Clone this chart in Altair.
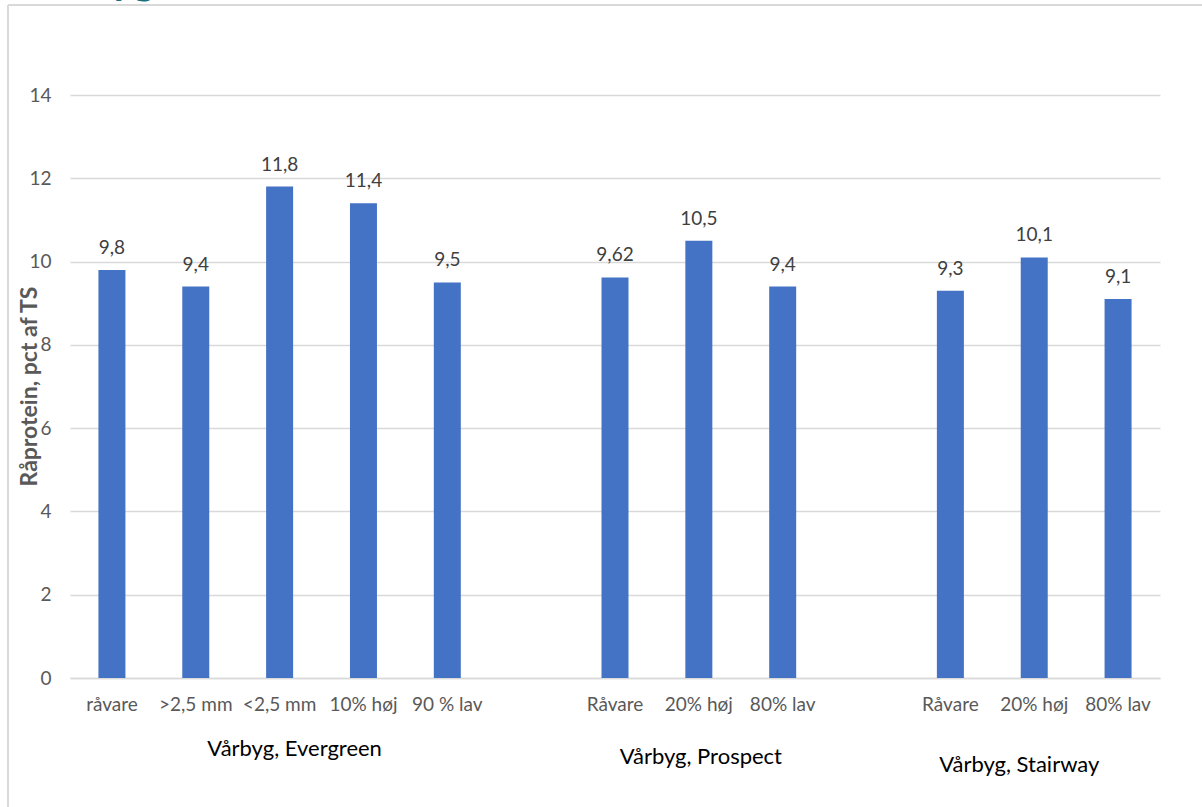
import altair as alt
import pandas as pd

# ---- data ----
slot_keys = ["E1", "E2", "E3", "E4", "E5", "gap1", "P1", "P2", "P3", "gap2", "S1", "S2", "S3"]
slot_labels = ["råvare", ">2,5 mm", "<2,5 mm", "10% høj", "90 % lav", "",
               "Råvare", "20% høj", "80% lav", "",
               "Råvare", "20% høj", "80% lav"]
bar_keys = ["E1", "E2", "E3", "E4", "E5", "P1", "P2", "P3", "S1", "S2", "S3"]
bar_values = [9.8, 9.4, 11.8, 11.4, 9.5, 9.62, 10.5, 9.4, 9.3, 10.1, 9.1]

group_names = ["Vårbyg, Evergreen", "Vårbyg, Prospect", "Vårbyg, Stairway"]
group_center_keys = ["E3", "P2", "S2"]

y_ticks = [0, 2, 4, 6, 8, 10, 12, 14]
y_title = "Råprotein, pct af TS"

# ---- styling / layout ----
FONT = "Lato"
W, H = 1090, 583
PAD = {"left": 70, "top": 95, "right": 42, "bottom": 129}
group_dx = [15, 2, -15]
group_y = [654, 662, 670]

df = pd.DataFrame({
    "key": bar_keys,
    "value": bar_values,
    "label": [str(v).replace(".", ",") for v in bar_values],
})

keys_js = "[" + ",".join(f"'{k}'" for k in slot_keys) + "]"
labels_js = "[" + ",".join(f"'{l}'" for l in slot_labels) + "]"
label_expr = f"{labels_js}[indexof({keys_js}, datum.value)]"

xscale = alt.Scale(domain=slot_keys, paddingInner=0.678, paddingOuter=0.339)
yscale = alt.Scale(domain=[0, 14])

x_axis = alt.Axis(
    title=None, labelAngle=0, ticks=False, labelExpr=label_expr,
    labelFont=FONT, labelFontSize=19, labelColor="#595959", labelPadding=17,
    labelOverlap=False, domainColor="#d9d9d9", domainWidth=1.5, grid=False,
)
y_axis = alt.Axis(
    title=y_title, values=y_ticks, ticks=False, domain=False,
    labelFont=FONT, labelFontSize=19, labelColor="#595959", labelPadding=19,
    gridColor="#d9d9d9", gridWidth=1.5,
    titleFont=FONT, titleFontSize=23, titleFontWeight="bold", titleColor="#595959",
    titleX=-41, titleY=291, titleAngle=270, titleAlign="center", titleBaseline="middle",
)

bars = alt.Chart(df).mark_bar(color="#4472c4").encode(
    x=alt.X("key:N", scale=xscale, axis=x_axis, sort=slot_keys),
    y=alt.Y("value:Q", scale=yscale, axis=y_axis),
)

value_labels = alt.Chart(df).mark_text(
    font=FONT, fontSize=19, color="#404040", baseline="middle", dy=-22
).encode(
    x=alt.X("key:N", scale=xscale, sort=slot_keys),
    y=alt.Y("value:Q", scale=yscale),
    text="label:N",
)

layers = [bars, value_labels]

for name, key, dx, yv in zip(group_names, group_center_keys, group_dx, group_y):
    gdf = pd.DataFrame({"key": [key], "name": [name]})
    layers.append(
        alt.Chart(gdf).mark_text(
            font=FONT, fontSize=22, color="#000000", baseline="middle", dx=dx
        ).encode(
            x=alt.X("key:N", scale=xscale, sort=slot_keys),
            y=alt.value(yv),
            text="name:N",
        )
    )

frame_df = pd.DataFrame({"a": [0]})
frame_left = alt.Chart(frame_df).mark_rule(color="#d9d9d9", strokeWidth=2).encode(
    x=alt.value(-62), y=alt.value(-90), y2=alt.value(H + PAD["bottom"])
)
frame_top = alt.Chart(frame_df).mark_rule(color="#d9d9d9", strokeWidth=2).encode(
    x=alt.value(-62), x2=alt.value(W + PAD["right"]), y=alt.value(-90)
)
cut_title = alt.Chart(frame_df).mark_text(
    text="Vårbyg", font=FONT, fontSize=42, fontWeight="bold", color="#17707e",
    align="right", baseline="alphabetic"
).encode(x=alt.value(85), y=alt.value(-101))

layers += [frame_left, frame_top, cut_title]

chart = alt.layer(*layers).properties(
    width=W, height=H,
    autosize=alt.AutoSizeParams(type="none"),
    padding=PAD,
    background="white",
).configure_view(stroke=None)

chart.save("out.html", embed_options={"renderer": "svg", "actions": False})
